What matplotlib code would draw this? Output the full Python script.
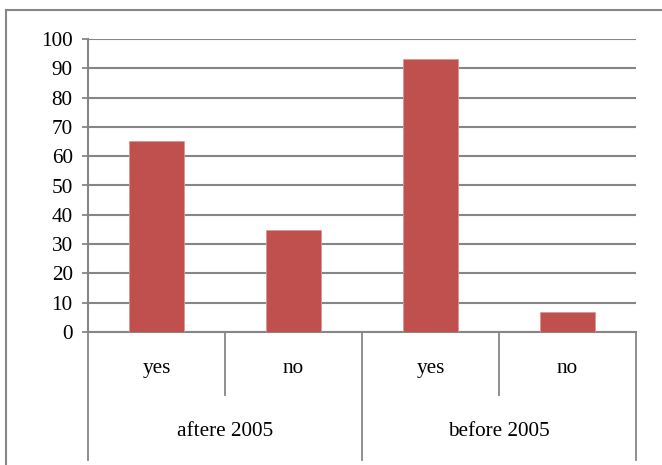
import matplotlib.pyplot as plt
from matplotlib.patches import Rectangle
import matplotlib.transforms as mtransforms
import numpy as np

plt.rcParams['font.family'] = ['Liberation Serif', 'DejaVu Serif']

answers = ["yes", "no", "yes", "no"]
groups = ["aftere 2005", "before 2005"]
values = [65.2, 34.8, 93.3, 6.7]

grey = "#868686"

fig = plt.figure(figsize=(6.62, 4.65), dpi=100)
ax = fig.add_axes([88 / 662, 1 - 332 / 465, 548 / 662, 293 / 465])

x = np.arange(len(values))
ax.bar(x, values, width=0.4, color="#c0504d", edgecolor="#d99694", linewidth=0.6, zorder=3)

ax.set_xlim(-0.5, len(values) - 0.5)
ax.set_ylim(0, 100)
ax.set_yticks(np.arange(0, 101, 10))
ax.tick_params(axis="y", length=4, width=1.3, color=grey, labelsize=15.3, pad=7)
ax.set_xticks([])
ax.yaxis.grid(True, color=grey, linewidth=1.5, zorder=0)
for s in ["top", "right"]:
    ax.spines[s].set_visible(False)
for s in ["left", "bottom"]:
    ax.spines[s].set_color(grey)
    ax.spines[s].set_linewidth(1.5)

# multi-level category axis
trans = mtransforms.blended_transform_factory(ax.transData, ax.transAxes)
for i in range(len(values) + 1):
    edge = i - 0.5
    bottom = -0.437 if i % 2 == 0 else -0.215
    ax.plot([edge, edge], [0, bottom], color=grey, linewidth=1.3, transform=trans, clip_on=False)
for i, lab in enumerate(answers):
    ax.text(i, -0.123, lab, transform=trans, ha="center", va="center", fontsize=15.3)
for g, lab in enumerate(groups):
    ax.text(2 * g + 0.5, -0.34, lab, transform=trans, ha="center", va="center", fontsize=15.3)

# outer chart frame
fig.patches.append(Rectangle((6 / 662, -0.1), 1.2, 1.1 - 10 / 465, transform=fig.transFigure,
                             fill=False, edgecolor=grey, linewidth=1.5))

fig.savefig("out.png", dpi=100)
